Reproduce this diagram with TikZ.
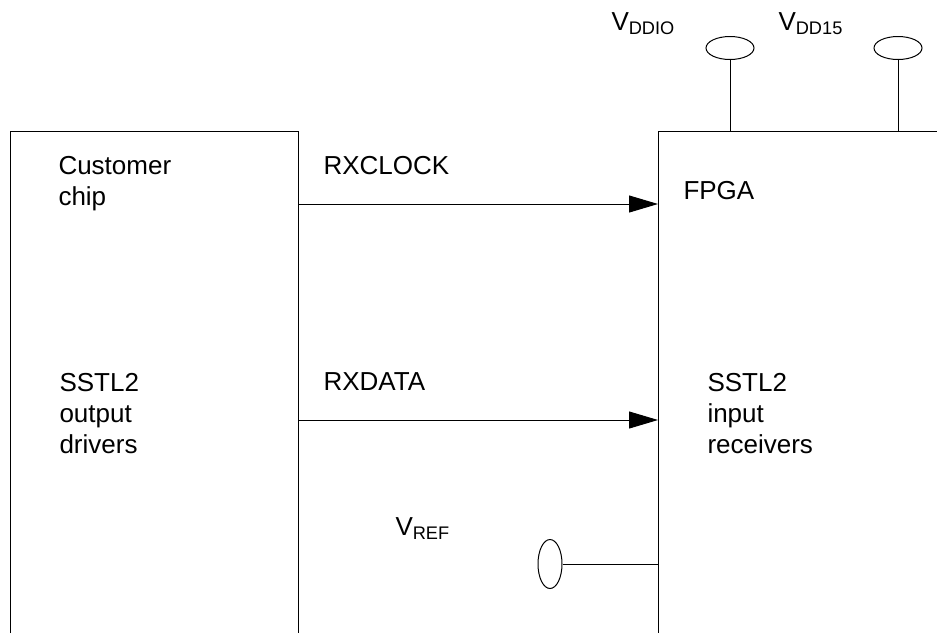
\documentclass[tikz,border=0pt]{standalone}
\usepackage{fontspec}
\setmainfont{Liberation Sans}
\usepackage{tikz}
\usetikzlibrary{arrows.meta,positioning,shapes.geometric}

\begin{document}
\begin{tikzpicture}[
x=0.5pt,y=-0.5pt,line width=0.5pt,
lbl/.style={anchor=base west,inner sep=0pt,align=left,font=\fontsize{13}{15.5}\selectfont},
pad/.style={draw,ellipse,inner sep=0pt},
arrow/.style={-{Triangle[length=14.5pt,width=8.5pt]}}
]
\useasboundingbox (0,0) rectangle (937,633);
% chip outlines (open at the bottom)
\coordinate (custBL) at (10,633);
\coordinate (custTL) at (10,131);
\coordinate (custTR) at (298,131);
\coordinate (custBR) at (298,633);
\coordinate (fpgaTR) at (937,131);
\coordinate (fpgaTL) at (658,131);
\coordinate (fpgaBL) at (658,633);
\draw (custBL) -- (custTL) -- (custTR) -- (custBR);
\draw (fpgaTR) -- (fpgaTL) -- (fpgaBL);

% multi-line labels sit on their last line
\node[lbl] (cust) at (58,205) {Customer\\chip};
\node[lbl] (drv) at (59,453) {SSTL2\\output\\drivers};
\node[lbl] (fpga) at (683,199) {FPGA};
\node[lbl] (rcv) at (707,453) {SSTL2\\input\\receivers};

% signals
\coordinate (clkout) at (298,204);
\coordinate (clkin) at (658,204);
\coordinate (datout) at (298,420);
\coordinate (datin) at (658,420);
\node[lbl] (clklbl) at (323,174) {RXCLOCK};
\node[lbl] (datlbl) at (323,390) {RXDATA};
\draw[arrow] (clkout) -- (clkin);
\draw[arrow] (datout) -- (datin);

% supply pads
\node[pad,minimum width=24pt,minimum height=11.5pt] (vddio) at (730,48) {};
\node[pad,minimum width=24pt,minimum height=11.5pt] (vdd15) at (898,48) {};
\node[lbl] (vddiolbl) at (611,30) {V\textsubscript{DDIO}};
\node[lbl] (vdd15lbl) at (778,30) {V\textsubscript{DD15}};
\coordinate (vddioin) at (730,131);
\coordinate (vdd15in) at (898,131);
\draw (vddio.south) -- (vddioin);
\draw (vdd15.south) -- (vdd15in);

% reference pad
\node[pad,minimum width=12pt,minimum height=24.5pt] (vref) at (550,564) {};
\node[lbl] (vreflbl) at (395,535) {V\textsubscript{REF}};
\coordinate (vrefin) at (658,564);
\draw (vref.east) -- (vrefin);
\end{tikzpicture}
\end{document}
